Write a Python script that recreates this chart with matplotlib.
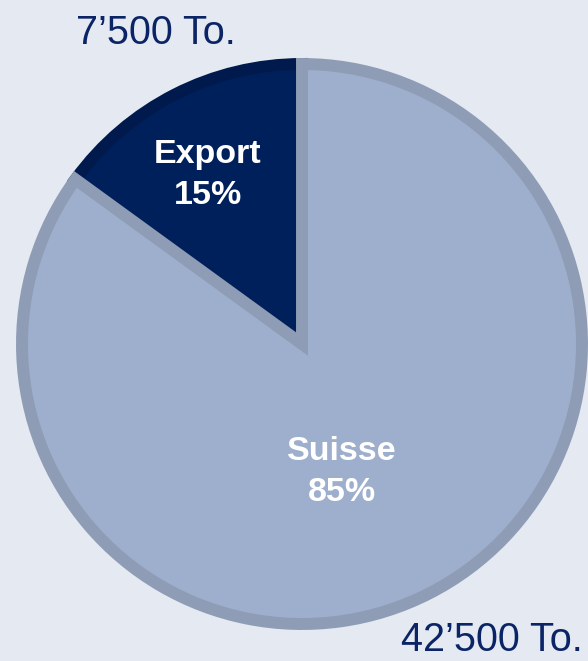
import matplotlib
matplotlib.use("Agg")
from matplotlib import pyplot as plt

# data
labels = ['Export', 'Suisse']
shares = [15, 85]
tonnes = ['7\u2019500 To.', '42\u2019500 To.']

bg = '#e4e9f2'
fills = ['#00205b', '#9eaecd']
edges = ['#001a4d', '#8e9cb5']

W, H = 588, 661
fig = plt.figure(figsize=(W / 100, H / 100), dpi=100, facecolor=bg)
ax = fig.add_axes([0, 0, 1, 1])
ax.set_facecolor(bg)

cx, cy, r = 302, H - 344, 280
wedges, _ = ax.pie(shares, colors=fills, startangle=90, counterclock=True,
                   center=(cx, cy), radius=r, frame=True)
for w, ec in zip(wedges, edges):
    w.set_edgecolor(ec)
    w.set_linewidth(8.6)
ax.set_xlim(0, W)
ax.set_ylim(0, H)
ax.axis('off')

# labels inside the slices
inner_pos = [(208, H - 175), (342, H - 472)]
for (x, y), lab, s in zip(inner_pos, labels, shares):
    ax.text(x, y, f'{lab}\n{s}%', color='white', fontsize=24.5,
            fontweight='bold', ha='center', va='center', linespacing=1.38,
            family=['Liberation Sans', 'DejaVu Sans'])

# tonnage
outer_pos = [(156, H - 33), (492, H - 640)]
for (x, y), t in zip(outer_pos, tonnes):
    ax.text(x, y, t, color='#0b2466', fontsize=28.5, ha='center', va='center',
            family=['Liberation Sans', 'DejaVu Sans'])

plt.savefig('out.png', dpi=100, facecolor=bg)
